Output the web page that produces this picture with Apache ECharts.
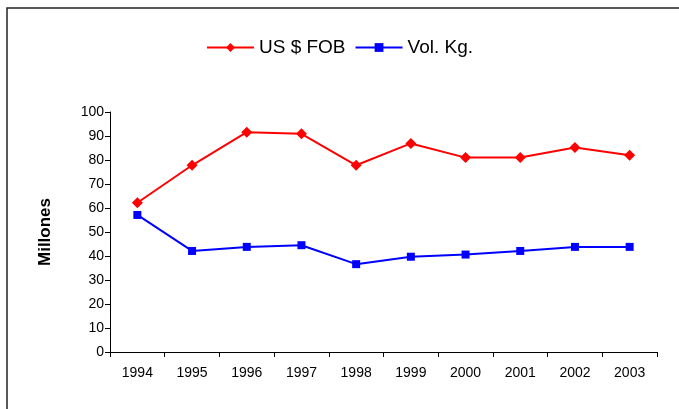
<!DOCTYPE html>
<html>
<head>
<meta charset="utf-8">
<script src="https://cdn.jsdelivr.net/npm/echarts@6/dist/echarts.min.js"></script>
<style>
  html, body { margin: 0; padding: 0; background: #fff; }
  #chart { width: 679px; height: 409px; }
</style>
</head>
<body>
<div id="chart"></div>
<script>
// Years on the category axis
const years = ['1994', '1995', '1996', '1997', '1998', '1999', '2000', '2001', '2002', '2003'];
// Export value, millions of US $ FOB
const fobValues = [62.2, 77.8, 91.6, 90.9, 77.8, 86.9, 81.0, 81.0, 85.2, 82.0];
// Export volume, millions of kg
const kgValues = [57.1, 42.1, 43.8, 44.5, 36.6, 39.7, 40.6, 42.1, 43.8, 43.8];
const seriesNames = ['US $ FOB', 'Vol. Kg.'];
const yTitle = 'Millones';

const chart = echarts.init(document.getElementById('chart'), null, { renderer: 'canvas' });

const font = 'Arial, "Liberation Sans", sans-serif';

chart.setOption({
  animation: false,
  backgroundColor: '#fff',
  graphic: [{
    type: 'rect',
    shape: { x: 7, y: 8, width: 700, height: 420 },
    style: { fill: 'none', stroke: '#222', lineWidth: 1.5 },
    silent: true
  }],
  legend: {
    top: 33,
    left: 'center',
    itemWidth: 47,
    itemHeight: 11,
    itemGap: 9,
    textStyle: { fontFamily: font, fontSize: 19, color: '#000' },
    data: seriesNames
  },
  grid: { left: 110, right: 22, top: 112, bottom: 57, containLabel: false },
  xAxis: {
    type: 'category',
    data: years,
    boundaryGap: true,
    axisLine: { lineStyle: { color: '#000', width: 1 } },
    axisTick: { show: true, alignWithLabel: false, length: 5, lineStyle: { color: '#000' } },
    axisLabel: { fontFamily: font, fontSize: 14, color: '#000', margin: 14 }
  },
  yAxis: {
    type: 'value',
    min: 0,
    max: 100,
    interval: 10,
    name: yTitle,
    nameLocation: 'middle',
    nameGap: 56,
    nameRotate: 90,
    nameTextStyle: { fontFamily: font, fontSize: 17, fontWeight: 'bold', color: '#000' },
    splitLine: { show: false },
    axisLine: { show: true, lineStyle: { color: '#000', width: 1 } },
    axisTick: { show: true, length: 5, lineStyle: { color: '#000' } },
    axisLabel: { fontFamily: font, fontSize: 14, color: '#000', margin: 6 }
  },
  series: [
    {
      name: seriesNames[0],
      type: 'line',
      data: fobValues,
      symbol: 'diamond',
      symbolSize: 11,
      color: '#ff0000',
      lineStyle: { color: '#ff0000', width: 2 },
      itemStyle: { color: '#ff0000' }
    },
    {
      name: seriesNames[1],
      type: 'line',
      data: kgValues,
      symbol: 'rect',
      symbolSize: 8,
      color: '#0000ff',
      lineStyle: { color: '#0000ff', width: 2 },
      itemStyle: { color: '#0000ff' }
    }
  ]
});
</script>
</body>
</html>
